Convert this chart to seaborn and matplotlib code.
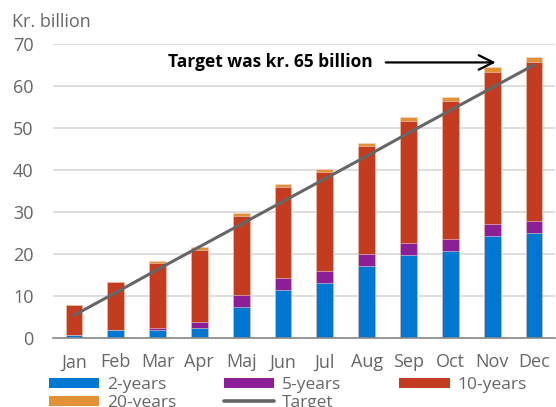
import numpy as np
import pandas as pd
import matplotlib
matplotlib.use("Agg")
import matplotlib.pyplot as plt
import seaborn as sns
from matplotlib.patches import Patch
from matplotlib.lines import Line2D

months = ["Jan", "Feb", "Mar", "Apr", "Maj", "Jun", "Jul", "Aug", "Sep", "Oct", "Nov", "Dec"]
y2 = [0.8, 2.0, 1.9, 2.5, 7.5, 11.4, 13.1, 17.1, 19.8, 20.6, 24.4, 24.9]
y5 = [0.0, 0.0, 0.4, 1.4, 2.8, 3.0, 2.9, 3.0, 2.9, 2.9, 2.8, 2.9]
y10 = [7.0, 11.3, 15.5, 17.1, 18.8, 21.5, 23.5, 25.7, 29.0, 33.0, 36.2, 38.0]
y20 = [0.1, 0.0, 0.5, 0.6, 0.7, 0.8, 0.7, 0.6, 0.8, 0.9, 1.0, 1.1]
target = [5.4, 10.8, 16.3, 21.7, 27.1, 32.5, 37.9, 43.3, 48.8, 54.2, 59.6, 65.0]

series_names = ["2-years", "5-years", "10-years", "20-years"]
colors = ["#0078d2", "#8c1f98", "#c43c1f", "#e39136"]
line_color = "#666666"
text_color = "#666666"

sns.set_theme(style="white")
plt.rcParams["font.family"] = ["Open Sans", "DejaVu Sans"]

fig = plt.figure(figsize=(5.56, 4.07), dpi=100)
ax = fig.add_axes([0.0953, 0.1695, 0.9027, 0.7225])

df = pd.DataFrame({"month": months, "2-years": y2, "5-years": y5,
                   "10-years": y10, "20-years": y20})
cum = df[series_names].cumsum(axis=1)

for name, col in reversed(list(zip(series_names, colors))):
    sns.barplot(x=df["month"], y=cum[name], color=col, width=0.4, ax=ax,
                edgecolor="#f3d9cf", linewidth=0.4, saturation=1, zorder=2)

sns.lineplot(x=np.arange(len(months)), y=target, color=line_color, lw=2.2,
             ax=ax, zorder=3)

ax.set_ylim(0, 70)
ax.set_xlim(-0.5, 11.5)
ax.set_yticks(range(0, 71, 10))
ax.yaxis.grid(True, color="#d4d4d4", lw=1.1, zorder=0)
ax.set_axisbelow(True)
ax.set_xlabel("")
ax.set_ylabel("")
for s in ["left", "right", "top"]:
    ax.spines[s].set_visible(False)
ax.spines["bottom"].set_color("#888888")
ax.spines["bottom"].set_linewidth(1.2)
ax.spines["bottom"].set_zorder(4)

ax.set_xticks(np.arange(len(months)))
ax.set_xticklabels(months)
ax.set_xticks(np.arange(-0.5, 12, 1), minor=True)
ax.tick_params(axis="x", which="major", length=0, pad=11, labelsize=13, labelcolor=text_color)
ax.tick_params(axis="x", which="minor", length=5, width=1.2, color="#888888", direction="out")
ax.tick_params(axis="y", length=0, pad=14, labelsize=13, labelcolor=text_color)

fig.text(0.022, 0.925, "Kr. billion", fontsize=13, color=text_color, ha="left", va="bottom")

ax.annotate("", xy=(10.15, 65.6), xytext=(7.39, 65.6),
            arrowprops=dict(arrowstyle="->", color="black", lw=1.6,
                            mutation_scale=26))
ax.text(2.25, 65.6, "Target was kr. 65 billion", fontsize=12.5, fontweight="bold",
        color="black", ha="left", va="center")

legend_cols = [
    ([Patch(facecolor=colors[0], edgecolor="none"), Patch(facecolor=colors[3], edgecolor="none")],
     ["2-years", "20-years"], 0.088),
    ([Patch(facecolor=colors[1], edgecolor="none"), Line2D([], [], color=line_color, lw=2.6)],
     ["5-years", "Target"], 0.403),
    ([Patch(facecolor=colors[2], edgecolor="none")], ["10-years"], 0.718),
]
for hs, ls, xpos in legend_cols:
    leg = fig.legend(hs, ls, ncol=1, loc="upper left",
                     bbox_to_anchor=(xpos, 0.074), frameon=False, fontsize=12.5,
                     handlelength=2.9, handleheight=0.55, handletextpad=0.45,
                     labelspacing=0.12, borderaxespad=0, borderpad=0)
    for t in leg.get_texts():
        t.set_color(text_color)

fig.savefig("out.png", dpi=100)
